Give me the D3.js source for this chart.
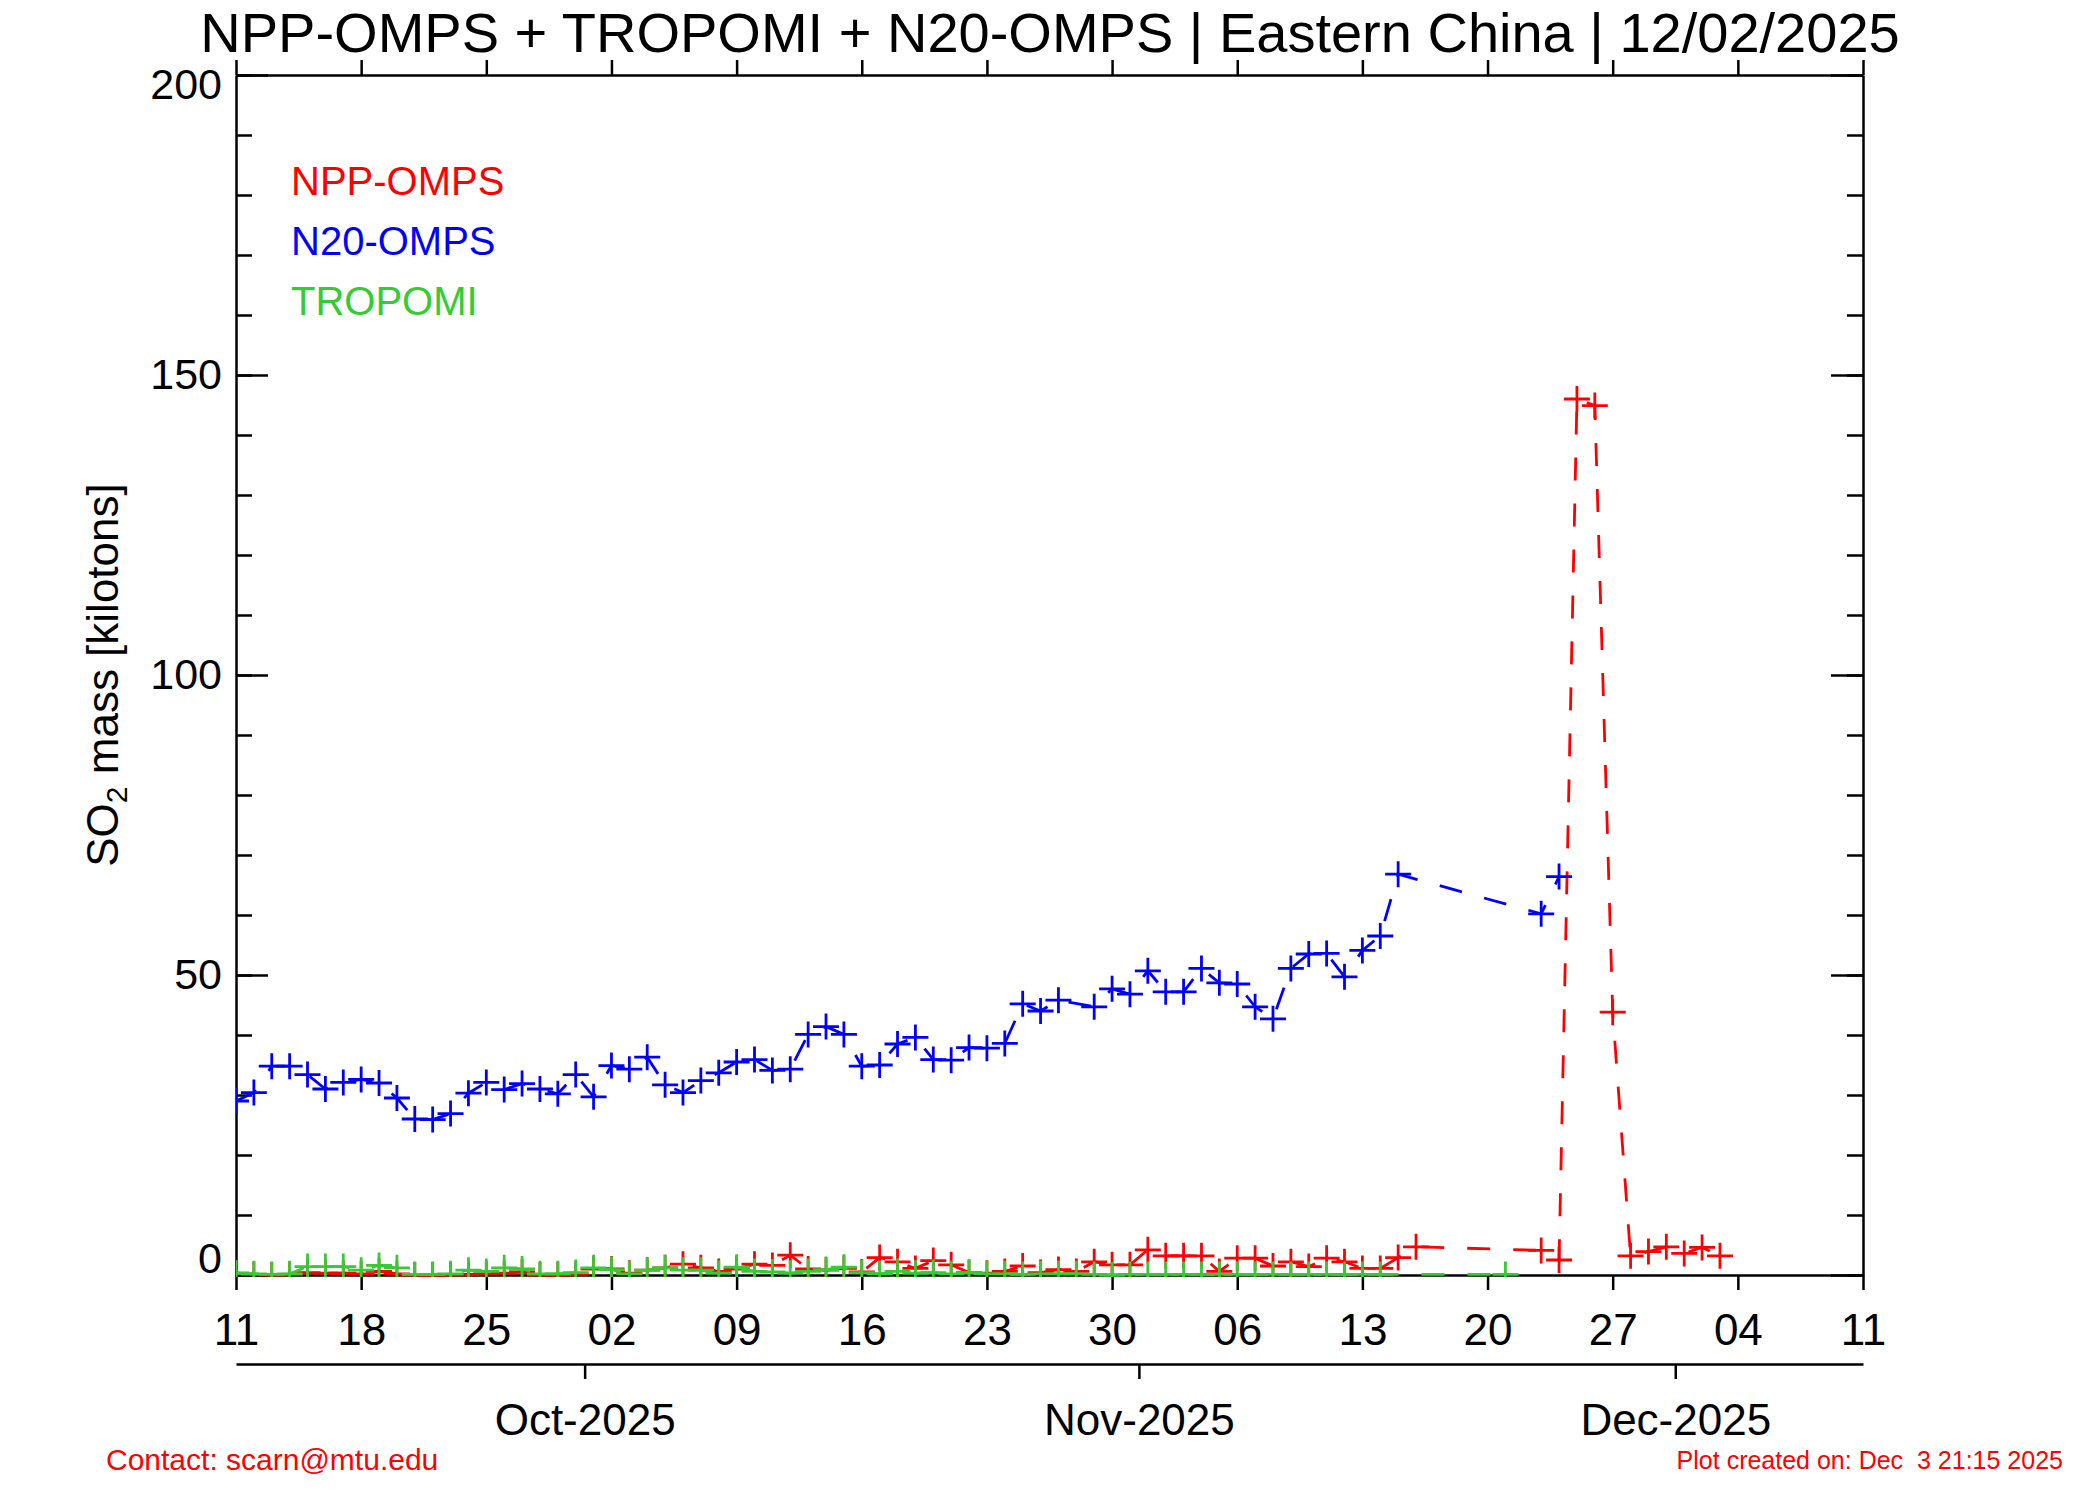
<!DOCTYPE html>
<html>
<head>
<meta charset="utf-8">
<title>SO2 mass - Eastern China</title>
<script src="https://cdn.jsdelivr.net/npm/d3@7"></script>
<style>
    body { margin: 0; background: #ffffff; }
    text { font-family: "Liberation Sans", Arial, Helvetica, sans-serif; }
</style>
</head>
<body>
<div id="so2-chart"></div>
<script>
// Daily SO2 mass [kilotons], one value per day starting at startDay (null = no data)
const startDay = "2025-09-11";
const endDay = "2025-12-11";

const nppOmps = [
    0.3, 0.1, 0.0, 0.1, 0.4, 0.3, 0.3, 0.2, 0.6, 0.2,
    0.0, 0.0, 0.0, 0.1, 0.2, 0.3, 0.5, 0.0, 0.0, 0.1,
    1.0, 1.0, 0.3, 0.8, 1.2, 1.8, 1.2, 0.6, 1.0, 1.8,
    1.6, 3.3, 1.0, 0.8, 1.1, 0.5, 2.9, 2.2, 1.1, 2.4,
    1.7, 0.4, 0.3, 0.6, 1.5, 0.4, 0.9, 0.6, 2.2, 1.7,
    1.7, 4.2, 3.2, 3.2, 3.2, 0.6, 2.8, 2.8, 1.5, 2.2,
    1.4, 2.8, 2.2, 1.1, 1.1, 2.9, 4.7, null, null, null,
    null, null, null, 4.1, 2.5, 146.0, 144.9, 43.8, 3.2, 3.9,
    4.7, 3.6, 4.6, 3.2
];

const n20Omps = [
    29.0, 30.4, 34.8, 34.8, 33.4, 31.0, 32.1, 32.6, 32.0, 29.5,
    26.0, 25.9, 26.9, 30.3, 32.1, 30.9, 31.9, 31.0, 30.2, 33.4,
    29.7, 34.9, 34.3, 36.3, 31.7, 30.4, 32.4, 33.7, 35.5, 35.9,
    34.1, 34.3, 40.1, 41.4, 40.1, 34.8, 35.0, 38.5, 39.6, 35.9,
    35.8, 37.9, 37.8, 38.6, 45.2, 44.0, 45.8, null, 44.7, 47.7,
    46.8, 50.7, 47.2, 47.2, 51.1, 48.7, 48.5, 44.7, 42.7, 51.1,
    53.5, 53.6, 49.7, 54.1, 56.5, 66.8, null, null, null, null,
    null, null, null, 60.2, 66.4
];

const tropomi = [
    0.3, 0.2, 0.1, 0.2, 1.4, 1.4, 1.4, 0.8, 1.6, 1.2,
    0.1, 0.1, 0.2, 0.8, 0.6, 1.2, 1.0, 0.2, 0.2, 0.4,
    1.2, 0.9, 0.2, 0.8, 1.2, 0.8, 0.8, 0.3, 1.3, 0.6,
    0.5, 0.3, 0.6, 0.9, 1.3, 0.4, 0.2, 0.6, 0.3, 0.4,
    0.2, 0.4, 0.2, 0.2, 0.1, 0.2, 0.2, 0.2, 0.1, 0.0,
    0.1, 0.1, 0.1, 0.1, 0.1, 0.1, 0.1, 0.1, 0.1, 0.1,
    0.1, 0.1, 0.1, 0.1, 0.1, null, null, null, null, null,
    null, 0.1
];

const seriesNames = ["NPP-OMPS", "N20-OMPS", "TROPOMI"];
const seriesColors = ["#ff0000", "#0000ff", "#33cc33"];
const monthStarts = ["2025-10-01", "2025-11-01", "2025-12-01"];
const yMinorTicks = [0, 10, 20, 30, 40, 50, 60, 70, 80, 90, 100, 110, 120, 130, 140, 150, 160, 170, 180, 190, 200];
const yMajorTicks = [0, 50, 100, 150, 200];
const titleText = "NPP-OMPS + TROPOMI + N20-OMPS | Eastern China | 12/02/2025";
const contactText = "Contact: scarn@mtu.edu";
const createdText = "Plot created on: Dec  3 21:15 2025";

/**
 * Constructor for the SO2 time series chart
 */
function SO2Chart(_series){
    let self = this;

    self.series = _series;

    self.init();
};

/**
 * Creates the svg, scales and axes, then draws the series
 */
SO2Chart.prototype.init = function(){
    let self = this;
    self.svgWidth = 2100;
    self.svgHeight = 1500;
    self.margin = {top: 75, right: 237, bottom: 225, left: 236};
    self.width = self.svgWidth - self.margin.left - self.margin.right;
    self.height = self.svgHeight - self.margin.top - self.margin.bottom;

    let parseDay = d3.utcParse("%Y-%m-%d");
    self.start = parseDay(startDay);
    self.end = parseDay(endDay);

    self.svg = d3.select("#so2-chart").append("svg")
        .attr("width", self.svgWidth)
        .attr("height", self.svgHeight)
        .style("background", "#ffffff");

    self.plot = self.svg.append("g")
        .attr("transform", "translate(" + self.margin.left + "," + self.margin.top + ")");

    self.x = d3.scaleUtc()
        .domain([self.start, self.end])
        .range([0, self.width]);

    //month labels are julian-day based, so they sit half a day early
    self.xMonth = d3.scaleUtc()
        .domain([d3.utcHour.offset(self.start, 12), d3.utcHour.offset(self.end, 12)])
        .range([0, self.width]);

    self.y = d3.scaleLinear()
        .domain([0, 200])
        .range([self.height, 0]);

    self.drawAxes();
    self.drawSeries();
    self.drawText();
};

/**
 * Draws the box, tick marks and tick labels
 */
SO2Chart.prototype.drawAxes = function(){
    let self = this;
    let weekTicks = d3.range(0, 92, 7).map(function(k) { return d3.utcDay.offset(self.start, k); });

    let styleAxis = function(g, fontSize) {
        g.attr("font-size", fontSize)
            .attr("font-family", "'Liberation Sans', Arial, Helvetica, sans-serif");
        g.selectAll("path, line")
            .attr("stroke", "#000")
            .attr("stroke-width", 2.5);
        g.selectAll("text").attr("fill", "#000");
    };

    //Bottom day axis
    self.plot.append("g")
        .attr("transform", "translate(0," + self.height + ")")
        .call(d3.axisBottom(self.x)
            .tickValues(weekTicks)
            .tickFormat(d3.utcFormat("%d"))
            .tickSize(15)
            .tickSizeOuter(0)
            .tickPadding(24))
        .call(styleAxis, 44);

    //Top axis, ticks only
    self.plot.append("g")
        .call(d3.axisTop(self.x)
            .tickValues(weekTicks)
            .tickFormat("")
            .tickSize(15)
            .tickSizeOuter(0))
        .call(styleAxis, 44);

    //Left minor ticks
    self.plot.append("g")
        .call(d3.axisLeft(self.y)
            .tickValues(yMinorTicks)
            .tickFormat("")
            .tickSize(-16)
            .tickSizeOuter(0))
        .call(styleAxis, 43);

    //Left major ticks with labels
    let yLeft = self.plot.append("g")
        .call(d3.axisLeft(self.y)
            .tickValues(yMajorTicks)
            .tickSize(-32)
            .tickSizeOuter(0)
            .tickPadding(14))
        .call(styleAxis, 43);
    yLeft.select(".domain").remove();
    //end labels are pushed inside the axis range
    yLeft.selectAll(".tick text")
        .attr("transform", function(d) { return d === 0 ? "translate(0,-16)" : (d === 200 ? "translate(0,10)" : null); });

    //Right axis, ticks only
    self.plot.append("g")
        .attr("transform", "translate(" + self.width + ",0)")
        .call(d3.axisRight(self.y)
            .tickValues(yMinorTicks)
            .tickFormat("")
            .tickSize(-16)
            .tickSizeOuter(0))
        .call(styleAxis, 43);

    let yRight = self.plot.append("g")
        .attr("transform", "translate(" + self.width + ",0)")
        .call(d3.axisRight(self.y)
            .tickValues(yMajorTicks)
            .tickFormat("")
            .tickSize(-32)
            .tickSizeOuter(0))
        .call(styleAxis, 43);
    yRight.select(".domain").remove();

    //Month axis below the day labels
    self.plot.append("g")
        .attr("transform", "translate(0," + (self.height + 89) + ")")
        .call(d3.axisBottom(self.xMonth)
            .tickValues(monthStarts.map(d3.utcParse("%Y-%m-%d")))
            .tickFormat(d3.utcFormat("%b-%Y"))
            .tickSize(15)
            .tickSizeOuter(0)
            .tickPadding(25))
        .call(styleAxis, 44);
};

/**
 * Draws each series as a dashed line with plus symbols
 */
SO2Chart.prototype.drawSeries = function(){
    let self = this;

    self.svg.append("defs").append("clipPath")
        .attr("id", "plot-clip")
        .append("rect")
        .attr("x", 0)
        .attr("y", 0)
        .attr("width", self.width)
        .attr("height", self.height + 2);

    let line = d3.line()
        .x(function(d) { return self.x(d.date); })
        .y(function(d) { return self.y(d.value); });

    let dataLayer = self.plot.append("g").attr("clip-path", "url(#plot-clip)");

    //NPP first, then N20, TROPOMI on top
    [0, 1, 2].forEach(function(i) {
        let points = self.series[i]
            .map(function(v, k) { return {date: d3.utcDay.offset(self.start, k), value: v}; })
            .filter(function(d) { return d.value !== null; });

        let g = dataLayer.append("g").attr("class", "series");

        g.append("path")
            .datum(points)
            .attr("d", line)
            .attr("fill", "none")
            .attr("stroke", seriesColors[i])
            .attr("stroke-width", 2.8)
            .attr("stroke-dasharray", "23,23");

        g.selectAll(".sym")
            .data(points)
            .enter()
            .append("path")
            .attr("class", "sym")
            .attr("transform", function(d) { return "translate(" + self.x(d.date) + "," + self.y(d.value) + ")"; })
            .attr("d", "M-13,0H13M0,-13V13")
            .attr("fill", "none")
            .attr("stroke", seriesColors[i])
            .attr("stroke-width", 2.8);
    });
};

/**
 * Title, legend, axis title and footer notes
 */
SO2Chart.prototype.drawText = function(){
    let self = this;

    self.svg.append("text")
        .attr("x", self.svgWidth / 2)
        .attr("y", 52)
        .attr("text-anchor", "middle")
        .attr("font-size", 56)
        .attr("fill", "#000")
        .text(titleText);

    //Legend in the upper left of the plot
    seriesNames.forEach(function(name, i) {
        self.svg.append("text")
            .attr("x", 291)
            .attr("y", 195 + i * 60)
            .attr("font-size", 40)
            .attr("fill", seriesColors[i])
            .text(name);
    });

    //Y axis title with subscript
    let yTitle = self.svg.append("text")
        .attr("transform", "translate(118,675) rotate(-90)")
        .attr("text-anchor", "middle")
        .attr("font-size", 44)
        .attr("fill", "#000");
    yTitle.append("tspan").text("SO");
    yTitle.append("tspan").attr("font-size", 30).attr("dy", 9).text("2");
    yTitle.append("tspan").attr("dy", -9).text(" mass [kilotons]");

    self.svg.append("text")
        .attr("x", 106)
        .attr("y", 1470)
        .attr("font-size", 30)
        .attr("fill", "#ff0000")
        .text(contactText);

    self.svg.append("text")
        .attr("x", 2063)
        .attr("y", 1469)
        .attr("text-anchor", "end")
        .attr("font-size", 25)
        .attr("fill", "#ff0000")
        .style("white-space", "pre")
        .text(createdText);
};

let chart = new SO2Chart([nppOmps, n20Omps, tropomi]);
</script>
</body>
</html>
